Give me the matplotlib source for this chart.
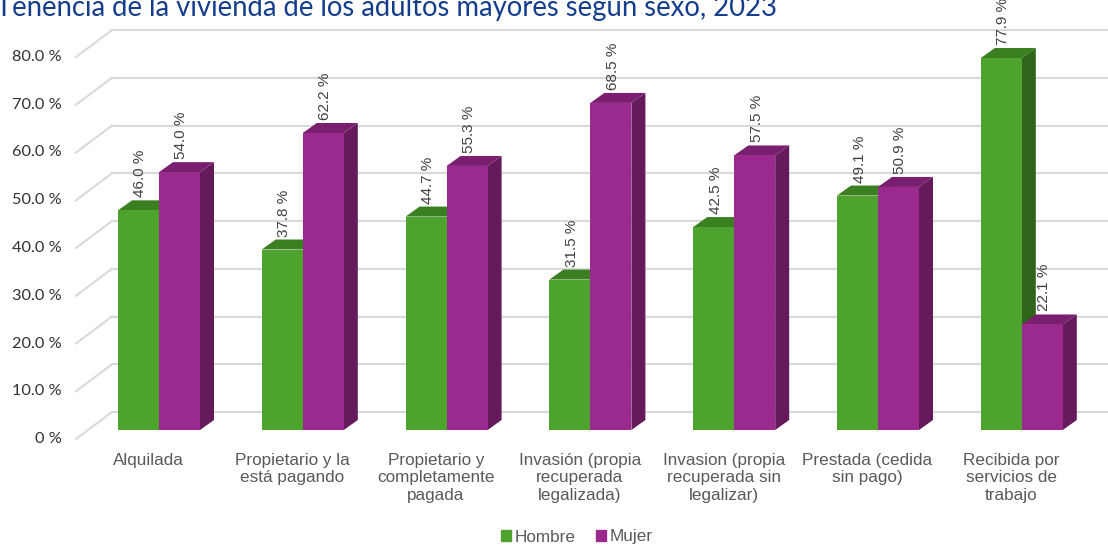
import matplotlib.pyplot as plt
from matplotlib.patches import Polygon, Rectangle, Patch

categorias = ["Alquilada",
              "Propietario y la\nestá pagando",
              "Propietario y\ncompletamente\npagada",
              "Invasión (propia\nrecuperada\nlegalizada)",
              "Invasion (propia\nrecuperada sin\nlegalizar)",
              "Prestada (cedida\nsin pago)",
              "Recibida por\nservicios de\ntrabajo"]
hombre = [46.0, 37.8, 44.7, 31.5, 42.5, 49.1, 77.9]
mujer = [54.0, 62.2, 55.3, 68.5, 57.5, 50.9, 22.1]
series = ["Hombre", "Mujer"]
yticks = [0, 10, 20, 30, 40, 50, 60, 70, 80]
titulo = "Tenencia de la vivienda de los adultos mayores según sexo, 2023"

# colores: frente, arriba, lado
colores = [("#4ea22e", "#3a7f20", "#2e651a"),
           ("#9b2a8f", "#7a1f70", "#651a5c")]

W, H = 1108, 546
fig = plt.figure(figsize=(W / 100, H / 100), dpi=100)
ax = fig.add_axes([0, 0, 1, 1])
ax.axis("off")

# escala: pixeles por categoria y por punto porcentual
gx = 143.8
ky = 4.775
x0 = 159   # centro del primer grupo (px)
y0 = 430   # base de las barras (px desde arriba)
ax.set_xlim(-x0 / gx, (W - x0) / gx)
ax.set_ylim(-(H - y0) / ky, y0 / ky)


def px(dx):
    return dx / gx


def py(dy):
    return dy / ky


w = px(41)
ddx, ddy = px(14), py(10)          # profundidad de la barra
fdx, fdy = px(-12), py(-9)         # plano frontal
bdx, bdy = px(24), py(18)          # pared del fondo
xorig = px(88 - x0)
xright = px(W - x0) + 1

grid_c = "#d9d9d9"
for v in yticks:
    ax.plot([xorig + fdx, xorig + bdx], [v + fdy, v + bdy], color=grid_c, lw=1.5, zorder=1)
    ax.plot([xorig + bdx, xright], [v + bdy, v + bdy], color=grid_c, lw=1.5, zorder=1)
    lab = "0 %" if v == 0 else f"{v:.1f} %"
    ax.text(px(62 - x0), v + fdy, lab, ha="right", va="center", fontsize=11.8,
            family="Lato", color="#333333")

z = 2
for i in range(len(categorias)):
    for s, vals in enumerate([hombre, mujer]):
        v = vals[i]
        xl = i - w + s * w
        front, top, side = colores[s]
        ax.add_patch(Polygon([(xl + w, 0), (xl + w, v), (xl + w + ddx, v + ddy),
                              (xl + w + ddx, ddy)], closed=True, fc=side, ec="none", zorder=z))
        ax.add_patch(Polygon([(xl, v), (xl + w, v), (xl + w + ddx, v + ddy),
                              (xl + ddx, v + ddy)], closed=True, fc=top, ec="none", zorder=z))
        ax.add_patch(Rectangle((xl, 0), w, v, fc=front, ec="none", zorder=z))
        z += 1
        ax.text(xl + w / 2 + px(2), v + py(13), f"{v:.1f} %", rotation=90,
                ha="center", va="bottom", fontsize=11, family="Liberation Sans",
                color="#404040", zorder=20)
    ax.text(i - px(10.5), py(-23), categorias[i], ha="center", va="top",
            fontsize=12.3, family="Liberation Sans", color="#595959", linespacing=1.2)

fig.text(-4 / W, 1 - 16 / H, titulo, ha="left", va="baseline", fontsize=19.8,
         family="Lato", color="#143d8c")

handles = [Patch(color=colores[0][0]), Patch(color=colores[1][0])]
fig.legend(handles, series, loc="center", bbox_to_anchor=(577 / W, 1 - 537 / H),
           ncol=2, frameon=False, handlelength=0.6, handleheight=0.6,
           handletextpad=0.2, columnspacing=1.2, borderpad=0.1,
           prop={"family": "Liberation Sans", "size": 12.3})
for t in fig.legends[0].get_texts():
    t.set_color("#595959")

fig.savefig("out.png", dpi=100)
